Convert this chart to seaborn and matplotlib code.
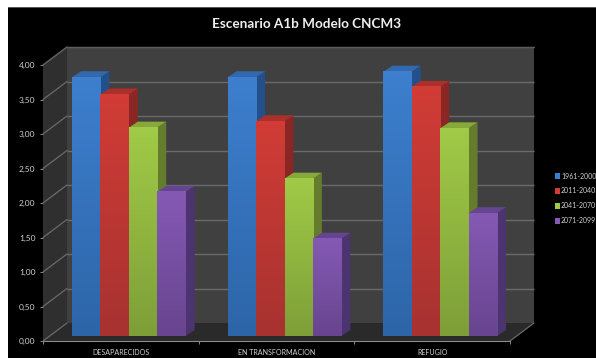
import numpy as np
import pandas as pd
import matplotlib
matplotlib.use("Agg")
import matplotlib.pyplot as plt
from matplotlib.patches import Polygon, Rectangle
from matplotlib.colors import LinearSegmentedColormap
import seaborn as sns

categories = ["DESAPARECIDOS", "EN TRANSFORMACION", "REFUGIO"]
periods = ["1961-2000", "2011-2040", "2041-2070", "2071-2099"]
v_1961 = [3.75, 3.75, 3.83]
v_2011 = [3.50, 3.11, 3.61]
v_2041 = [3.02, 2.28, 3.01]
v_2071 = [2.09, 1.41, 1.78]
yticks = [0, 0.5, 1, 1.5, 2, 2.5, 3, 3.5, 4]
title = "Escenario A1b Modelo CNCM3"

front_top = ["#3d7fce", "#d13c36", "#a0ca47", "#8459b4"]
front_bot = ["#2d65a8", "#a73230", "#7e9f38", "#68458f"]
top_cols = ["#3268ad", "#ad2f2a", "#86a93a", "#65458f"]
side_cols = ["#234f8a", "#8a2624", "#647d2c", "#4b3470"]

W, H = 596, 358
sns.set_theme(style="dark")
plt.rcParams["font.family"] = ["Lato", "DejaVu Sans"]
plt.rcParams["patch.linewidth"] = 0
TXT = "#cfcfcf"

fig = plt.figure(figsize=(W / 100, H / 100), dpi=100, facecolor="white")
fig.add_artist(Rectangle((8 / W, 0), 1 - 8 / W, 1 - 8 / H, transform=fig.transFigure,
                         facecolor="black", edgecolor="none", zorder=-5))
fig.add_artist(Rectangle((8 / W, 1 - 8 / H), 1 - 8 / W, 1 / H, transform=fig.transFigure,
                         facecolor="#555555", edgecolor="none", zorder=-5))


def box(x0, ytop, x1, ybot):
    return [x0 / W, 1 - ybot / H, (x1 - x0) / W, (ybot - ytop) / H]


# frame axes: front plane of the 3-D box
frame = fig.add_axes(box(43, 65, 510, 341))
frame.patch.set_visible(False)
frame.grid(False)
frame.set_xlim(-0.5, 2.5)
frame.set_ylim(0, 4)
upx = 3 / 467          # x data units per pixel
vpx = 4 / 276          # y data units per pixel
dx, dy = 24 * upx, 18 * vpx


def wall(pts, color, z):
    frame.add_patch(Polygon(pts, closed=True, facecolor=color, edgecolor="none",
                            zorder=z, clip_on=False))


wall([(-0.5 + dx, dy), (2.5 + dx, dy), (2.5 + dx, 4 + dy), (-0.5 + dx, 4 + dy)], "#404040", 0)
wall([(-0.5, 0), (-0.5 + dx, dy), (-0.5 + dx, 4 + dy), (-0.5, 4)], "#2f2f2f", 0.5)
wall([(-0.5, 0), (2.5, 0), (2.5 + dx, dy), (-0.5 + dx, dy)], "#2a2a2a", 0.5)
for t in yticks:
    col = "#6a6a6a"
    if t > 0:
        frame.plot([-0.5 + dx, 2.5 + dx], [t + dy, t + dy], color=col, lw=1, zorder=1,
                   clip_on=False, solid_capstyle="butt")
    frame.plot([-0.5, -0.5 + dx], [t, t + dy], color=col, lw=0.9, zorder=1, clip_on=False)
frame.plot([-0.5 + dx, 2.5 + dx], [4 + dy, 4 + dy], color="#5c5c5c", lw=0.8, zorder=1, clip_on=False)
frame.plot([-0.5, -0.5 + dx], [4, 4 + dy], color="#5c5c5c", lw=0.8, zorder=1, clip_on=False)
frame.plot([2.5, 2.5 + dx], [0, dy], color="#6a6a6a", lw=0.9, zorder=1, clip_on=False)
for s in ["top", "right", "left"]:
    frame.spines[s].set_visible(False)
frame.spines["bottom"].set_color("#8a8a8a")
frame.spines["bottom"].set_linewidth(0.8)
frame.set_yticks(yticks)
frame.set_yticklabels([f"{t:.2f}".replace(".", ",") for t in yticks], fontsize=6, color=TXT)
frame.set_xticks(range(len(categories)))
frame.set_xticklabels(categories, fontsize=5.1, color=TXT)
frame.set_xticks([-0.5, 0.5, 1.5, 2.5], minor=True)
frame.tick_params(axis="x", which="major", length=0, pad=5.8)
frame.tick_params(axis="x", which="minor", length=2, width=0.7, color="#8a8a8a", bottom=True)
frame.tick_params(axis="y", length=2.5, width=0.7, color="#8a8a8a", pad=3, left=True)

# bars axes: same scale, moved inside the floor
bars = fig.add_axes(box(51, 60, 518, 336))
bars.patch.set_visible(False)
df = pd.DataFrame({
    "categoria": categories * 4,
    "periodo": np.repeat(periods, 3),
    "valor": v_1961 + v_2011 + v_2041 + v_2071,
})
sns.barplot(data=df, x="categoria", y="valor", hue="periodo", palette=front_top, gap=0,
            width=0.73, saturation=1, ax=bars, legend=True, errorbar=None, linewidth=0)
handles, labels = bars.get_legend_handles_labels()
bars.get_legend().remove()
bars.set_xlim(-0.5, 2.5)
bars.set_ylim(0, 4)
bars.axis("off")

bdx, bdy = 9 * upx, 6 * vpx
for s, cont in enumerate(bars.containers):
    cmap = LinearSegmentedColormap.from_list("g", [front_top[s], front_bot[s]])
    for bar in cont:
        x0, w, h = bar.get_x(), bar.get_width(), bar.get_height()
        x1 = x0 + w
        z = 3 + s
        bars.add_patch(Polygon([(x1, 0), (x1 + bdx, bdy), (x1 + bdx, h + bdy), (x1, h)],
                               facecolor=side_cols[s], edgecolor="none", zorder=z, clip_on=False))
        bars.add_patch(Polygon([(x0, h), (x1, h), (x1 + bdx, h + bdy), (x0 + bdx, h + bdy)],
                               facecolor=top_cols[s], edgecolor="none", zorder=z, clip_on=False))
        bar.set_zorder(z + 0.1)
        bars.imshow(np.linspace(0, 1, 64).reshape(-1, 1), cmap=cmap, aspect="auto",
                    extent=[x0, x1, 0, h], origin="upper", zorder=z + 0.2)
bars.set_xlim(-0.5, 2.5)
bars.set_ylim(0, 4)

fig.text(307 / W, 1 - 24 / H, title, ha="center", va="center", fontsize=9.7,
         fontweight="bold", color="#eeeeee")

for h in handles:
    h.set_linewidth(0)
leg = fig.legend(handles, labels, loc="upper left", bbox_to_anchor=(555 / W, 1 - 172.5 / H),
                 frameon=False, fontsize=5.0, labelcolor=TXT, handlelength=0.75, handleheight=0.8,
                 handletextpad=0.1, labelspacing=1.15, borderpad=0, borderaxespad=0)
fig.savefig("out.png", dpi=100, facecolor=fig.get_facecolor())
